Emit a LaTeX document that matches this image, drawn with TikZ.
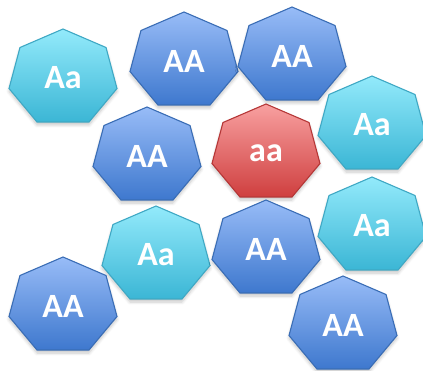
\documentclass[tikz,border=0pt]{standalone}
\usepackage{fontspec}
\setmainfont{Carlito}
\usetikzlibrary{shadows.blur}
\definecolor{cyanT}{HTML}{93EAFB}
\definecolor{cyanD}{HTML}{3BB6D5}
\definecolor{cyanB}{HTML}{3FA8C4}
\definecolor{blueT}{HTML}{98BCF7}
\definecolor{blueD}{HTML}{3E78CE}
\definecolor{blueB}{HTML}{3A6DB5}
\definecolor{redT}{HTML}{F8A0A0}
\definecolor{redD}{HTML}{CF3F3F}
\definecolor{redB}{HTML}{B53737}
\tikzset{
  hepbase/.style={line width=1.1pt, line join=miter,
    blur shadow={shadow xshift=0pt, shadow yshift=-3pt, shadow blur steps=6, shadow opacity=22, shadow blur radius=3pt}},
  cyanhep/.style={hepbase, draw=cyanB, top color=cyanT, bottom color=cyanD},
  bluehep/.style={hepbase, draw=blueB, top color=blueT, bottom color=blueD},
  redhep/.style={hepbase, draw=redB, top color=redT, bottom color=redD},
  lbl/.style={text=white, font=\fontsize{34}{40}\selectfont\bfseries, inner sep=0pt}
}
\newcommand{\hep}[5]{%
  \draw[#4] (#2,#3-49)
    -- (#2-43,#3-30.5)
    -- (#2-54,#3+10.5)
    -- (#2-26,#3+44)
    -- (#2+26,#3+44)
    -- (#2+54,#3+10.5)
    -- (#2+43,#3-30.5) -- cycle;
  \node[lbl] (#1) at (#2,#3) {#5};}
\begin{document}
\begin{tikzpicture}[x=1pt,y=-1pt]
\useasboundingbox (0,0) rectangle (423,371);
\hep{h1}{63}{78}{cyanhep}{Aa}
\hep{h2}{184}{61}{bluehep}{AA}
\hep{h3}{292}{56}{bluehep}{AA}
\hep{h4}{147}{156}{bluehep}{AA}
\hep{h5}{266}{153}{redhep}{aa}
\hep{h6}{372}{125}{cyanhep}{Aa}
\hep{h7}{156}{255}{cyanhep}{Aa}
\hep{h9}{266}{249}{bluehep}{AA}
\hep{h10}{372}{226}{cyanhep}{Aa}
\hep{h8}{63}{306}{bluehep}{AA}
\hep{h11}{343}{325}{bluehep}{AA}
\end{tikzpicture}
\end{document}
